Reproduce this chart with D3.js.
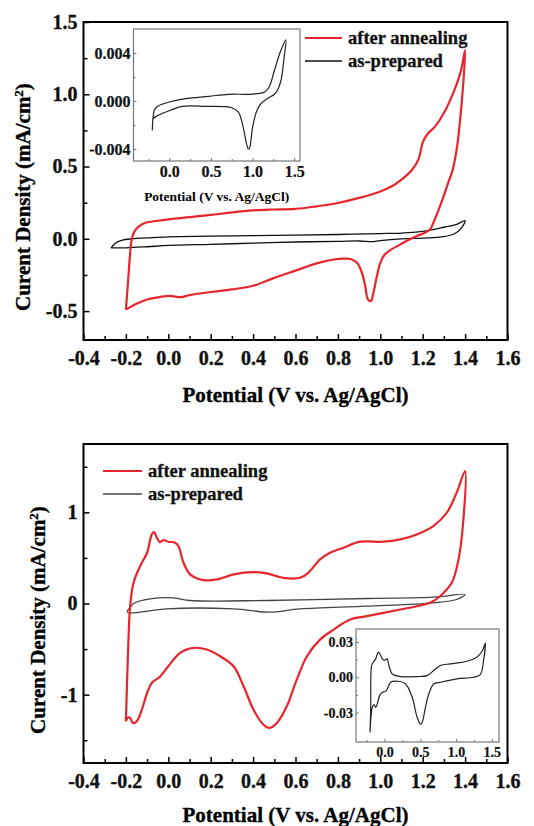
<!DOCTYPE html>
<html>
<head>
<meta charset="utf-8">
<script src="https://cdn.jsdelivr.net/npm/d3@7"></script>
<style>
  body { margin: 0; background: #fff; }
  svg { display: block; }
  text { font-family: "Liberation Serif", "Times New Roman", serif; font-weight: bold; }
</style>
</head>
<body>
<svg id="chart" width="534" height="826"></svg>
<script>
// data: [potential V, current density mA/cm2]
const topAnnealed = [
    [-0.2, -0.49], [-0.19, -0.3], [-0.18, -0.1], [-0.172, 0.0], [-0.16, 0.05], [-0.14, 0.085],
    [-0.11, 0.11], [-0.05, 0.125], [0.0, 0.135], [0.1, 0.15], [0.2, 0.165], [0.3, 0.183],
    [0.4, 0.197], [0.5, 0.203], [0.6, 0.207], [0.7, 0.225], [0.8, 0.248], [0.9, 0.283],
    [1.0, 0.328], [1.05, 0.36], [1.1, 0.41], [1.15, 0.478], [1.18, 0.55], [1.2, 0.665],
    [1.22, 0.72], [1.26, 0.78], [1.3, 0.87], [1.35, 1.03], [1.38, 1.16], [1.4, 1.306],
    [1.39, 1.05], [1.375, 0.8], [1.36, 0.616], [1.34, 0.47], [1.32, 0.387], [1.3, 0.3],
    [1.275, 0.2], [1.25, 0.11], [1.235, 0.064], [1.2, 0.035], [1.17, 0.018], [1.13, -0.01],
    [1.094, -0.04], [1.05, -0.075], [1.02, -0.11], [1.0, -0.166], [0.984, -0.258], [0.968, -0.37],
    [0.956, -0.43], [0.942, -0.42], [0.929, -0.327], [0.913, -0.233], [0.89, -0.166], [0.86, -0.14],
    [0.83, -0.137], [0.78, -0.143], [0.7, -0.17], [0.6, -0.22], [0.5, -0.27], [0.4, -0.325],
    [0.3, -0.35], [0.2, -0.368], [0.1, -0.39], [0.06, -0.403], [0.02, -0.397], [0.0, -0.395],
    [-0.05, -0.405], [-0.1, -0.42], [-0.15, -0.45], [-0.2, -0.49]
];
const topPrepared = [
    [-0.27, -0.062], [-0.25, -0.03], [-0.22, -0.01], [-0.17, 0.0], [-0.1, 0.006], [0.0, 0.014],
    [0.2, 0.018], [0.4, 0.022], [0.6, 0.026], [0.8, 0.03], [1.0, 0.036], [1.1, 0.04],
    [1.2, 0.052], [1.25, 0.064], [1.3, 0.08], [1.36, 0.1], [1.4, 0.126], [1.38, 0.07],
    [1.35, 0.035], [1.3, 0.015], [1.2, 0.005], [1.1, 0.0], [1.0, -0.012], [0.96, -0.02],
    [0.9, -0.015], [0.8, -0.018], [0.6, -0.022], [0.4, -0.03], [0.2, -0.038], [0.0, -0.046],
    [-0.1, -0.055], [-0.2, -0.062], [-0.27, -0.062]
];
const topInset = [
    [-0.205, -0.00245], [-0.2, -0.0018], [-0.197, -0.00148], [-0.185, -0.0009], [-0.178, -0.00072],
    [-0.15, -0.0005], [-0.118, -0.00036], [0.0, -0.00008], [0.197, 0.0002], [0.474, 0.00039],
    [0.71, 0.00056], [0.95, 0.00056], [1.1, 0.00065], [1.145, 0.00075], [1.2, 0.00117],
    [1.263, 0.00256], [1.334, 0.0041], [1.4, 0.0051], [1.38, 0.00368], [1.342, 0.00173],
    [1.3, 0.0009], [1.263, 0.00056], [1.18, 0.0002], [1.1, -0.00022], [1.046, -0.00092],
    [1.0, -0.0022], [0.967, -0.00385], [0.95, -0.004], [0.928, -0.00357], [0.888, -0.0022],
    [0.83, -0.00092], [0.75, -0.00056], [0.434, -0.00045], [0.158, -0.00045], [-0.04, -0.00092],
    [-0.158, -0.00128], [-0.197, -0.00148]
];
const bottomAnnealed = [
    [-0.2, -1.293], [-0.19, -0.54], [-0.18, -0.03], [-0.164, 0.227], [-0.133, 0.41], [-0.1, 0.557],
    [-0.078, 0.758], [-0.067, 0.784], [-0.054, 0.72], [-0.04, 0.674], [-0.023, 0.696], [0.0, 0.678],
    [0.032, 0.667], [0.048, 0.63], [0.072, 0.447], [0.103, 0.32], [0.166, 0.256], [0.229, 0.264],
    [0.308, 0.32], [0.402, 0.344], [0.465, 0.33], [0.543, 0.282], [0.622, 0.282], [0.66, 0.337],
    [0.716, 0.484], [0.763, 0.557], [0.826, 0.612], [0.905, 0.678], [1.015, 0.678], [1.094, 0.703],
    [1.172, 0.758], [1.25, 0.85], [1.314, 0.996], [1.36, 1.216], [1.4, 1.454],
    [1.392, 0.923], [1.369, 0.484], [1.337, 0.227], [1.282, 0.08], [1.235, 0.007], [1.172, -0.03],
    [1.094, -0.066], [0.937, -0.139], [0.858, -0.176], [0.78, -0.286], [0.716, -0.396], [0.654, -0.579],
    [0.606, -0.835], [0.559, -1.128], [0.512, -1.311], [0.477, -1.366], [0.449, -1.33], [0.402, -1.165],
    [0.355, -0.908], [0.308, -0.689], [0.245, -0.579], [0.182, -0.505], [0.119, -0.487], [0.056, -0.542],
    [0.0, -0.689], [-0.038, -0.8], [-0.078, -0.872], [-0.1, -0.982], [-0.125, -1.165], [-0.149, -1.293],
    [-0.167, -1.311], [-0.18, -1.256], [-0.19, -1.25], [-0.2, -1.293]
];
const bottomPrepared = [
    [-0.195, -0.084], [-0.19, -0.073], [-0.164, 0.0], [-0.086, 0.051], [0.024, 0.062], [0.103, 0.033],
    [0.465, 0.033], [0.937, 0.055], [1.25, 0.07], [1.4, 0.099], [1.36, 0.044], [1.25, 0.007],
    [0.937, -0.029], [0.622, -0.059], [0.477, -0.095], [0.308, -0.059], [-0.007, -0.059],
    [-0.133, -0.095], [-0.188, -0.103], [-0.195, -0.084]
];
const bottomInset = [
    [-0.204, -0.047], [-0.195, -0.028], [-0.186, 0.0085], [-0.172, 0.0114], [-0.125, 0.0156],
    [-0.088, 0.0213], [-0.056, 0.0185], [-0.019, 0.0148], [0.014, 0.0148], [0.037, 0.0156],
    [0.06, 0.01], [0.107, 0.0028], [0.223, 0.0006], [0.455, 0.0006], [0.594, 0.0014],
    [0.687, 0.0057], [0.78, 0.01], [0.92, 0.0114], [1.152, 0.0136], [1.29, 0.017], [1.37, 0.0227],
    [1.407, 0.029], [1.384, 0.0142], [1.338, 0.0023], [1.245, 0.0], [1.013, -0.0014], [0.78, -0.0043],
    [0.687, -0.0057], [0.618, -0.0142], [0.571, -0.0256], [0.525, -0.0384], [0.502, -0.0398],
    [0.455, -0.034], [0.386, -0.017], [0.293, -0.0057], [0.176, -0.0034], [0.084, -0.0043],
    [0.037, -0.01], [0.014, -0.012], [-0.033, -0.0128], [-0.07, -0.0156], [-0.102, -0.0227],
    [-0.125, -0.0256], [-0.149, -0.0233], [-0.172, -0.0256], [-0.195, -0.037], [-0.204, -0.047]
];

// ticks
const mainXTicks = [-0.4, -0.2, 0.0, 0.2, 0.4, 0.6, 0.8, 1.0, 1.2, 1.4, 1.6];
const mainXMinor = [-0.3, -0.1, 0.1, 0.3, 0.5, 0.7, 0.9, 1.1, 1.3, 1.5];
const topYTicks = [-0.5, 0.0, 0.5, 1.0, 1.5];
const topYMinor = [-0.25, 0.25, 0.75, 1.25];
const bottomYTicks = [-1, 0, 1];
const bottomYMinor = [-1.5, -0.5, 0.5, 1.5];
const insetXTicks = [0.0, 0.5, 1.0, 1.5];
const insetXMinor = [-0.25, 0.25, 0.75, 1.25];
const topInsetYTicks = [-0.004, 0.0, 0.004];
const topInsetYMinor = [-0.002, 0.002];
const bottomInsetYTicks = [-0.03, 0.0, 0.03];
const bottomInsetYMinor = [-0.015, 0.015];

const legendNames = ["after annealing", "as-prepared"];
const RED = "#e6262c";

const svg = d3.select("#chart");

function axes(g, x, y, o) {
    const fs = o.fontSize;
    const xa = g.append("g").attr("transform", `translate(0,${y.range()[0]})`)
        .call(d3.axisBottom(x).tickValues(o.xTicks).tickSizeInner(-o.tick).tickSizeOuter(0)
            .tickPadding(o.xPad).tickFormat(d => d.toFixed(o.xDec)));
    const xm = g.append("g").attr("transform", `translate(0,${y.range()[0]})`)
        .call(d3.axisBottom(x).tickValues(o.xMinor).tickSizeInner(-o.minor).tickSizeOuter(0).tickFormat(""));
    const ya = g.append("g").attr("transform", `translate(${x.range()[0]},0)`)
        .call(d3.axisLeft(y).tickValues(o.yTicks).tickSizeInner(-o.tick).tickSizeOuter(0)
            .tickPadding(o.yPad).tickFormat(d => d.toFixed(o.yDec)));
    const ym = g.append("g").attr("transform", `translate(${x.range()[0]},0)`)
        .call(d3.axisLeft(y).tickValues(o.yMinor).tickSizeInner(-o.minor).tickSizeOuter(0).tickFormat(""));

    [xa, xm, ya, ym].forEach(a => {
        a.select(".domain").remove();
        a.selectAll("line").attr("stroke", o.color).attr("stroke-width", o.tickWidth);
        a.selectAll("text").attr("font-size", fs).attr("fill", "#111")
            .attr("stroke", "#111").attr("stroke-width", o.textStroke)
            .style("font-family", '"Liberation Serif", "Times New Roman", serif');
    });

    g.append("rect")
        .attr("x", x.range()[0]).attr("y", y.range()[1])
        .attr("width", x.range()[1] - x.range()[0])
        .attr("height", y.range()[0] - y.range()[1])
        .attr("fill", "none").attr("stroke", o.color).attr("stroke-width", o.frameWidth);
}

function curve(g, x, y, data, color, width) {
    const line = d3.line().x(d => x(d[0])).y(d => y(d[1])).curve(d3.curveCatmullRom.alpha(0.5));
    g.append("path").datum(data)
        .attr("d", line)
        .attr("fill", "none")
        .attr("stroke", color)
        .attr("stroke-width", width)
        .attr("stroke-linejoin", "round");
}

function panel(p) {
    const g = svg.append("g");
    const x = d3.scaleLinear().domain([-0.4, 1.6]).range([83.5, 507.5]);
    const y = d3.scaleLinear().domain(p.yDomain).range([p.bottom, p.top]);

    curve(g, x, y, p.prepared, p.preparedColor, 1.3);
    curve(g, x, y, p.annealed, RED, 2.2);

    axes(g, x, y, {
        xTicks: mainXTicks, xMinor: mainXMinor, yTicks: p.yTicks, yMinor: p.yMinor,
        xDec: 1, yDec: p.yDec, tick: 6, minor: 4, xPad: 11, yPad: 6,
        fontSize: 20, color: "#000", tickWidth: 1.5, frameWidth: 2, textStroke: 0.35
    });

    g.append("text")
        .attr("x", (x.range()[0] + x.range()[1]) / 2)
        .attr("y", p.titleY)
        .attr("text-anchor", "middle")
        .attr("font-size", 21)
        .attr("stroke", "#000").attr("stroke-width", 0.35)
        .text("Potential (V vs. Ag/AgCl)");

    const yt = g.append("text")
        .attr("transform", `translate(${p.yTitleX},${p.yTitleY}) rotate(-90)`)
        .attr("text-anchor", "middle")
        .attr("font-size", 21)
        .attr("stroke", "#000").attr("stroke-width", 0.35);
    yt.append("tspan").text("Curent Density (mA/cm");
    yt.append("tspan").attr("baseline-shift", "super").attr("font-size", 13).text("2");
    yt.append("tspan").text(")");

    // legend
    const lg = g.append("g").attr("transform", `translate(${p.legendX},${p.legendY})`);
    [[RED, 2.2], [p.preparedColor, 1.3]].forEach((s, i) => {
        lg.append("line").attr("x1", 0).attr("x2", p.legendLine).attr("y1", i * 23).attr("y2", i * 23)
            .attr("stroke", s[0]).attr("stroke-width", s[1]);
        lg.append("text").attr("x", p.legendLine + 6).attr("y", i * 23 + 6)
            .attr("font-size", 18.5).attr("fill", "#111")
            .attr("stroke", "#111").attr("stroke-width", 0.3)
            .text(legendNames[i]);
    });

    // inset
    const ig = g.append("g");
    const ix = d3.scaleLinear().domain(p.inset.xDomain).range([p.inset.left, p.inset.right]);
    const iy = d3.scaleLinear().domain(p.inset.yDomain).range([p.inset.bottom, p.inset.top]);
    ig.append("rect")
        .attr("x", p.inset.left).attr("y", p.inset.top)
        .attr("width", p.inset.right - p.inset.left).attr("height", p.inset.bottom - p.inset.top)
        .attr("fill", "#fff");
    curve(ig, ix, iy, p.inset.data, "#222", 1.2);
    axes(ig, ix, iy, {
        xTicks: insetXTicks, xMinor: insetXMinor, yTicks: p.inset.yTicks, yMinor: p.inset.yMinor,
        xDec: 1, yDec: p.inset.yDec, tick: 3, minor: 2, xPad: 5, yPad: 3,
        fontSize: p.inset.fontSize, color: "#777", tickWidth: 1, frameWidth: 1.2, textStroke: 0.2
    });
    if (p.inset.title) {
        ig.append("text")
            .attr("x", (p.inset.left + p.inset.right) / 2)
            .attr("y", p.inset.bottom + 40)
            .attr("text-anchor", "middle")
            .attr("font-size", 13.5)
            .text("Potential (V vs. Ag/AgCl)");
    }
}

panel({
    top: 22, bottom: 340, yDomain: [-0.7, 1.5],
    yTicks: topYTicks, yMinor: topYMinor, yDec: 1,
    annealed: topAnnealed, prepared: topPrepared, preparedColor: "#111",
    titleY: 402, yTitleX: 30, yTitleY: 197,
    legendX: 305, legendY: 38, legendLine: 37,
    inset: {
        left: 133.5, right: 300, top: 29, bottom: 161,
        xDomain: [-0.43, 1.57], yDomain: [-0.005, 0.006],
        yTicks: topInsetYTicks, yMinor: topInsetYMinor, yDec: 3,
        data: topInset, fontSize: 16, title: true
    }
});

panel({
    top: 444, bottom: 763, yDomain: [-1.75, 1.75],
    yTicks: bottomYTicks, yMinor: bottomYMinor, yDec: 0,
    annealed: bottomAnnealed, prepared: bottomPrepared, preparedColor: "#444",
    titleY: 822, yTitleX: 45, yTitleY: 620,
    legendX: 103, legendY: 471, legendLine: 39,
    inset: {
        left: 356, right: 499, top: 629, bottom: 742,
        xDomain: [-0.4, 1.6], yDomain: [-0.055, 0.041],
        yTicks: bottomInsetYTicks, yMinor: bottomInsetYMinor, yDec: 2,
        data: bottomInset, fontSize: 14, title: false
    }
});
</script>
</body>
</html>
